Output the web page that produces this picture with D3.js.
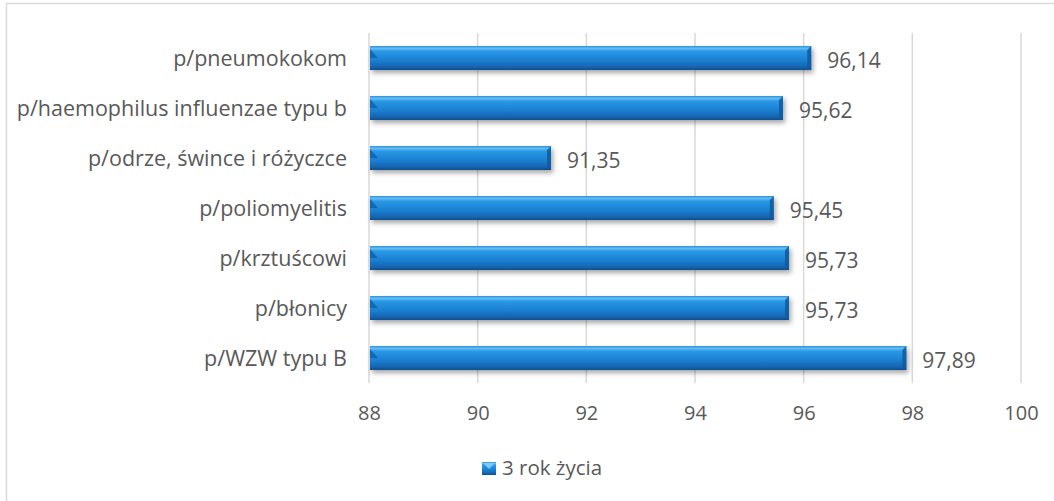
<!DOCTYPE html>
<html>
<head>
<meta charset="utf-8">
<script src="https://cdn.jsdelivr.net/npm/d3@7"></script>
<style>
  html, body { margin: 0; padding: 0; background: #fff; }
  svg { display: block; }
  text { font-family: "Open Sans", sans-serif; fill: #595959; }
</style>
</head>
<body>
<svg id="chart" width="1054" height="501"></svg>
<script>
const categories = [
  "p/pneumokokom",
  "p/haemophilus influenzae typu b",
  "p/odrze, śwince i różyczce",
  "p/poliomyelitis",
  "p/krztuścowi",
  "p/błonicy",
  "p/WZW typu B"
];
const values = [96.14, 95.62, 91.35, 95.45, 95.73, 95.73, 97.89];
const valueLabels = ["96,14", "95,62", "91,35", "95,45", "95,73", "95,73", "97,89"];
const tickValues = [88, 90, 92, 94, 96, 98, 100];
const seriesName = "3 rok życia";

const svg = d3.select("#chart");

// chart border (cropped at right/bottom)
svg.append("rect").attr("x", 6.5).attr("y", 3.5).attr("width", 1060).attr("height", 510)
  .attr("fill", "none").attr("stroke", "#d9d9d9").attr("stroke-width", 1.5);

const plot = { left: 369, right: 1021, top: 33, bottom: 383 };
const x = d3.scaleLinear().domain([88, 100]).range([plot.left, plot.right]);
const y = d3.scaleBand().domain(categories).range([plot.top, plot.bottom]).paddingInner(0.52).paddingOuter(0.26);

const defs = svg.append("defs");
const grad = defs.append("linearGradient").attr("id", "barGrad").attr("x1", 0).attr("y1", 0).attr("x2", 0).attr("y2", 1);
grad.append("stop").attr("offset", "0%").attr("stop-color", "#2f8fd8");
grad.append("stop").attr("offset", "10%").attr("stop-color", "#63bdf4");
grad.append("stop").attr("offset", "22%").attr("stop-color", "#2a98e6");
grad.append("stop").attr("offset", "60%").attr("stop-color", "#1b7fd0");
grad.append("stop").attr("offset", "85%").attr("stop-color", "#1667b4");
grad.append("stop").attr("offset", "100%").attr("stop-color", "#0f4f8e");

const shadow = defs.append("filter").attr("id", "shadow").attr("x", "-5%").attr("y", "-30%").attr("width", "115%").attr("height", "180%");
shadow.append("feDropShadow").attr("dx", 2).attr("dy", 3).attr("stdDeviation", 2.5)
  .attr("flood-color", "#000").attr("flood-opacity", 0.35);

// gridlines
svg.append("g").selectAll("line").data(tickValues).join("line")
  .attr("x1", d => x(d)).attr("x2", d => x(d))
  .attr("y1", plot.top).attr("y2", plot.bottom)
  .attr("stroke", "#d9d9d9").attr("stroke-width", 1.5);

// x axis labels
const xAxis = d3.axisBottom(x).tickValues(tickValues).tickSize(0).tickPadding(0).tickFormat(d => d);
const gx = svg.append("g").attr("transform", `translate(0, ${plot.bottom})`).call(xAxis);
gx.select(".domain").remove();
gx.selectAll("text").attr("dy", null).attr("y", 37).style("font-size", "20px")
  .style("font-family", '"Open Sans", sans-serif').attr("fill", "#595959");

// y axis labels
const yAxis = d3.axisLeft(y).tickSize(0).tickPadding(0);
const gy = svg.append("g").attr("transform", `translate(${plot.left - 22}, 0)`).call(yAxis);
gy.select(".domain").remove();
gy.selectAll("text").attr("dy", "0.35em").style("font-size", "21.5px")
  .style("font-family", '"Open Sans", sans-serif').attr("fill", "#595959");

// bars
const data = categories.map((c, i) => ({ c, v: values[i], lab: valueLabels[i] }));
const bars = svg.append("g").selectAll("g").data(data).join("g");
const bh = y.bandwidth();
bars.append("rect")
  .attr("x", x(88) + 1).attr("y", d => y(d.c))
  .attr("width", d => x(d.v) - x(88) - 1).attr("height", bh)
  .attr("fill", "url(#barGrad)").attr("filter", "url(#shadow)");
const bev = 4;
bars.append("path")
  .attr("d", d => {
    const x0 = x(88) + 1, y0 = y(d.c);
    return `M${x0},${y0 + 3} L${x0 + bev + 4},${y0 + bh * 0.5} L${x0},${y0 + bh * 0.5} Z`;
  })
  .attr("fill", "#0f5fa8").attr("opacity", 0.8);
bars.append("path")
  .attr("d", d => {
    const x1 = x(d.v), y0 = y(d.c);
    return `M${x1},${y0} L${x1 - bev},${y0 + 4} L${x1 - bev},${y0 + bh - 3} L${x1},${y0 + bh} Z`;
  })
  .attr("fill", "#0e5a9e").attr("opacity", 0.85);

// value labels
bars.append("text")
  .attr("x", d => x(d.v) + 16).attr("y", d => y(d.c) + bh / 2 + 3)
  .attr("dy", "0.35em").style("font-size", "21px").text(d => d.lab);

// legend
const lg = svg.append("g").attr("transform", "translate(482, 462)");
lg.append("rect").attr("x", 0).attr("y", 0).attr("width", 14).attr("height", 13).attr("fill", "url(#barGrad)");
lg.append("path").attr("d", "M1,1 L7,7 L13,1 Z").attr("fill", "#7cc8f7");
lg.append("text").attr("x", 20).attr("y", 6).attr("dy", "0.35em").style("font-size", "20.5px").text(seriesName);
</script>
</body>
</html>
